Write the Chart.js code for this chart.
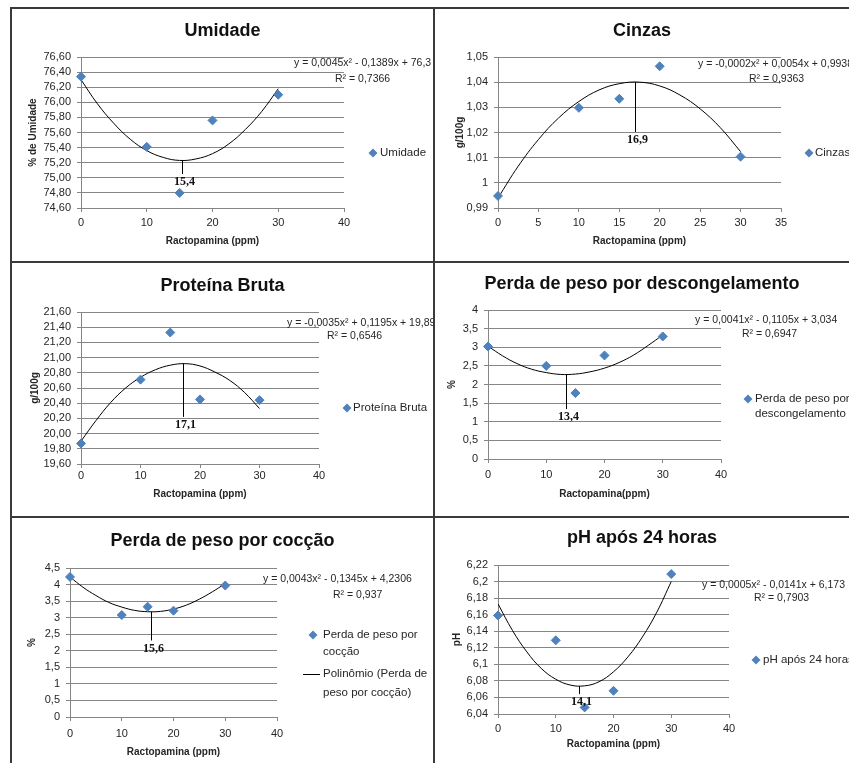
<!DOCTYPE html>
<html>
<head>
<meta charset="utf-8">
<script src="https://cdn.jsdelivr.net/npm/chart.js@4/dist/chart.umd.min.js"></script>
<style>
html,body{margin:0;padding:0;background:#fff;}
#wrap{position:relative;width:849px;height:763px;overflow:hidden;background:#fff;}
#wrap canvas{position:absolute;}
.ln{position:absolute;background:#3a3a3a;z-index:5;}
</style>
</head>
<body>
<div id="wrap">
  <canvas id="c1"></canvas><canvas id="c2"></canvas>
  <canvas id="c3"></canvas><canvas id="c4"></canvas>
  <canvas id="c5"></canvas><canvas id="c6"></canvas>
  <div class="ln" style="left:10px;top:7px;width:839px;height:2px"></div>
  <div class="ln" style="left:10px;top:7px;width:2px;height:756px"></div>
  <div class="ln" style="left:433px;top:7px;width:2px;height:756px"></div>
  <div class="ln" style="left:10px;top:261px;width:839px;height:2px"></div>
  <div class="ln" style="left:10px;top:516px;width:839px;height:2px"></div>
</div>
<script>
// ---------- DATA ----------
const doses = [0, 10, 15, 20, 30];
const umidade = [76.34, 75.41, 74.80, 75.76, 76.10];
const cinzas = [0.9948, 1.0298, 1.0334, 1.0463, 1.0104];
const proteina = [19.87, 20.71, 21.33, 20.45, 20.44];
const descongelamento = [3.02, 2.50, 1.77, 2.78, 3.29];
const coccao = [4.23, 3.08, 3.33, 3.21, 3.97];
const ph = [6.159, 6.129, 6.048, 6.068, 6.209];

// trend curves
const curveX = [0, 2.5, 5, 7.5, 10, 12.5, 15, 17.5, 20, 22.5, 25, 27.5, 30];
const umidadeCurve = [76.30, 75.98, 75.72, 75.51, 75.36, 75.27, 75.23, 75.25, 75.32, 75.45, 75.64, 75.88, 76.18];
const cinzasCurve = [0.994, 1.0066, 1.0172, 1.0258, 1.0323, 1.0369, 1.0394, 1.0400, 1.0385, 1.0349, 1.0294, 1.0219, 1.0124];
const proteinaCurve = [19.90, 20.17, 20.41, 20.60, 20.74, 20.84, 20.90, 20.92, 20.89, 20.81, 20.70, 20.54, 20.33];
const descongelamentoCurve = [3.03, 2.77, 2.56, 2.41, 2.32, 2.27, 2.28, 2.34, 2.44, 2.59, 2.79, 3.05, 3.33];
const coccaoCurve = [4.23, 3.92, 3.67, 3.46, 3.32, 3.22, 3.18, 3.19, 3.26, 3.38, 3.56, 3.78, 4.03];
const phCurve = [6.173, 6.141, 6.115, 6.095, 6.082, 6.075, 6.074, 6.079, 6.091, 6.109, 6.133, 6.163, 6.200];

// vertex markers: [x, curve y, bottom of line y]
const umidadeVertex = [15.4, 75.23, 75.05];
const cinzasVertex = [16.9, 1.040, 1.0202];
const proteinaVertex = [17.1, 20.92, 20.22];
const descongelamentoVertex = [13.4, 2.27, 1.34];
const coccaoVertex = [15.6, 3.18, 2.31];
const phVertex = [14.1, 6.074, 6.064];
const vertexLabels = ['15,4', '16,9', '17,1', '13,4', '15,6', '14,1'];

// tick labels
const umidadeYTicks = ['74,60','74,80','75,00','75,20','75,40','75,60','75,80','76,00','76,20','76,40','76,60'];
const cinzasYTicks = ['0,99','1','1,01','1,02','1,03','1,04','1,05'];
const proteinaYTicks = ['19,60','19,80','20,00','20,20','20,40','20,60','20,80','21,00','21,20','21,40','21,60'];
const descongelamentoYTicks = ['0','0,5','1','1,5','2','2,5','3','3,5','4'];
const coccaoYTicks = ['0','0,5','1','1,5','2','2,5','3','3,5','4','4,5'];
const phYTicks = ['6,04','6,06','6,08','6,1','6,12','6,14','6,16','6,18','6,2','6,22'];
const xTicks40 = ['0','10','20','30','40'];
const xTicks35 = ['0','5','10','15','20','25','30','35'];

// texts
const titles = ['Umidade', 'Cinzas', 'Proteína Bruta', 'Perda de peso por descongelamento', 'Perda de peso por cocção', 'pH após 24 horas'];
const equations = ['y = 0,0045x² - 0,1389x + 76,3', 'y = -0,0002x² + 0,0054x + 0,9938', 'y = -0,0035x² + 0,1195x + 19,896',
  'y = 0,0041x² - 0,1105x + 3,034', 'y = 0,0043x² - 0,1345x + 4,2306', 'y = 0,0005x² - 0,0141x + 6,173'];
const r2Texts = ['R² = 0,7366', 'R² = 0,9363', 'R² = 0,6546', 'R² = 0,6947', 'R² = 0,937', 'R² = 0,7903'];
const yTitles = ['% de Umidade', 'g/100g', 'g/100g', '%', '%', 'pH'];
const xTitles = ['Ractopamina (ppm)', 'Ractopamina (ppm)', 'Ractopamina (ppm)', 'Ractopamina(ppm)', 'Ractopamina (ppm)', 'Ractopamina (ppm)'];

// ---------- STYLE / LAYOUT ----------
const FONT = '"Liberation Sans", Arial, sans-serif';
const SERIF = '"Liberation Serif", "Times New Roman", serif';
const BLUE = '#4F81BD';
const GRID = '#868686';
const TXT = '#262626';
const toNum = s => parseFloat(s.replace(',', '.'));

const panels = [
  {id:'c1', left:12, top:9, w:421, h:252, area:[69,48,332,199], name:'Umidade', values:umidade, curve:umidadeCurve,
   yTicks:umidadeYTicks, xTicks:xTicks40, vertex:umidadeVertex, vi:0, titleY:22, yTitlePad:15, xTitlePad:14, xTickPad:4,
   eqPos:[[282,54],[323,70]], legend:[{type:'marker', mx:361, tx:368, lines:[[ 'Umidade',144 ]]}]},
  {id:'c2', left:435, top:9, w:414, h:252, area:[63,48,346,199], name:'Cinzas', values:cinzas, curve:cinzasCurve,
   yTicks:cinzasYTicks, xTicks:xTicks35, vertex:cinzasVertex, vi:1, titleY:22, yTitlePad:19, xTitlePad:14, xTickPad:4,
   eqPos:[[263,55],[314,70]], legend:[{type:'marker', mx:374, tx:380, lines:[[ 'Cinzas',144 ]]}]},
  {id:'c3', left:12, top:263, w:421, h:253, area:[69,49,307,201], name:'Proteína Bruta', values:proteina, curve:proteinaCurve,
   yTicks:proteinaYTicks, xTicks:xTicks40, vertex:proteinaVertex, vi:2, titleY:23, yTitlePad:17, xTitlePad:16, xTickPad:1,
   eqPos:[[275,60],[315,73]], legend:[{type:'marker', mx:335, tx:341, lines:[[ 'Proteína Bruta',145 ]]}]},
  {id:'c4', left:435, top:263, w:414, h:253, area:[53,47,286,196], name:'Perda de peso por descongelamento', values:descongelamento, curve:descongelamentoCurve,
   yTicks:descongelamentoYTicks, xTicks:xTicks40, vertex:descongelamentoVertex, vi:3, titleY:21, yTitlePad:11, xTitlePad:16, xTickPad:5,
   eqPos:[[260,57],[307,71]], legend:[{type:'marker', mx:313, tx:320, lines:[[ 'Perda de peso por',136 ],[ 'descongelamento',151 ]]}]},
  {id:'c5', left:12, top:518, w:421, h:245, area:[58,50,265,199], name:'Perda de peso por cocção', values:coccao, curve:coccaoCurve,
   yTicks:coccaoYTicks, xTicks:xTicks40, vertex:coccaoVertex, vi:4, titleY:23, yTitlePad:14, xTitlePad:5, xTickPad:6,
   eqPos:[[251,61],[321,77]], legend:[
     {type:'marker', mx:301, tx:311, lines:[[ 'Perda de peso por',117 ],[ 'cocção',134 ]]},
     {type:'line', lx1:291, lx2:308, tx:311, lines:[[ 'Polinômio (Perda de',156 ],[ 'peso por cocção)',175 ]]}]},
  {id:'c6', left:435, top:518, w:414, h:245, area:[63,47,294,196], name:'pH após 24 horas', values:ph, curve:phCurve,
   yTicks:phYTicks, xTicks:xTicks40, vertex:phVertex, vi:5, titleY:20, yTitlePad:16, xTitlePad:13, xTickPad:4,
   eqPos:[[267,67],[319,80]], legend:[{type:'marker', mx:321, tx:328, lines:[[ 'pH após 24 horas',142 ]]}]}
];

function diamond(ctx, x, y, r) {
  ctx.beginPath();
  ctx.moveTo(x, y - r); ctx.lineTo(x + r, y); ctx.lineTo(x, y + r); ctx.lineTo(x - r, y); ctx.closePath();
  ctx.fillStyle = BLUE; ctx.fill();
}

const deco = {
  id: 'deco',
  afterDraw(chart) {
    const p = panels.find(q => q.id === chart.canvas.id);
    if (!p) return;
    const ctx = chart.ctx, xs = chart.scales.x, ys = chart.scales.y;
    const k = p.vi;
    ctx.save();
    // vertex line + label
    const px = Math.round(xs.getPixelForValue(p.vertex[0])) + 0.5;
    const y1 = ys.getPixelForValue(p.vertex[1]), y2 = ys.getPixelForValue(p.vertex[2]);
    ctx.strokeStyle = '#000'; ctx.lineWidth = 1;
    ctx.beginPath(); ctx.moveTo(px, y1); ctx.lineTo(px, y2); ctx.stroke();
    ctx.font = 'bold 12px ' + SERIF; ctx.fillStyle = '#111';
    ctx.textAlign = 'center'; ctx.textBaseline = 'middle';
    ctx.fillText(vertexLabels[k], px + 2, y2 + 8);
    // title
    ctx.font = 'bold 18px ' + FONT; ctx.fillStyle = '#111';
    ctx.fillText(titles[k], p.w / 2, p.titleY);
    // equation
    ctx.font = '10.5px ' + FONT; ctx.fillStyle = TXT; ctx.textAlign = 'left';
    ctx.fillText(equations[k], p.eqPos[0][0], p.eqPos[0][1]);
    ctx.fillText(r2Texts[k], p.eqPos[1][0], p.eqPos[1][1]);
    // legend
    ctx.font = '11.5px ' + FONT;
    p.legend.forEach(e => {
      if (e.type === 'marker') diamond(ctx, e.mx, e.lines[0][1], 4.5);
      else {
        ctx.strokeStyle = '#000'; ctx.lineWidth = 1;
        ctx.beginPath(); ctx.moveTo(e.lx1, e.lines[0][1] + 0.5); ctx.lineTo(e.lx2, e.lines[0][1] + 0.5); ctx.stroke();
      }
      ctx.fillStyle = TXT;
      e.lines.forEach(([t, y]) => ctx.fillText(t, e.tx, y));
    });
    ctx.restore();
  }
};

function makeChart(p, k) {
  const cv = document.getElementById(p.id);
  cv.width = p.w; cv.height = p.h;
  cv.style.left = p.left + 'px'; cv.style.top = p.top + 'px';
  cv.style.width = p.w + 'px'; cv.style.height = p.h + 'px';
  const [L, T, R, B] = p.area;
  const yVals = p.yTicks.map(toNum), xVals = p.xTicks.map(toNum);
  return new Chart(cv, {
    type: 'scatter',
    data: {
      datasets: [
        { label: p.name, data: doses.map((d, i) => ({x: d, y: p.values[i]})),
          pointStyle: 'rectRot', pointRadius: 4.5, pointHoverRadius: 4.5, clip: false,
          backgroundColor: BLUE, borderColor: BLUE, borderWidth: 1, order: 0 },
        { label: 'Polinômio', type: 'line', data: curveX.map((x, i) => ({x: x, y: p.curve[i]})),
          showLine: true, pointRadius: 0, borderColor: '#000', borderWidth: 1, tension: 0.4, fill: false, order: 1 }
      ]
    },
    options: {
      responsive: false, animation: false, devicePixelRatio: 1,
      layout: { padding: { left: 0, top: T, right: p.w - R, bottom: 0 } },
      plugins: { legend: { display: false }, title: { display: false }, tooltip: { enabled: false } },
      scales: {
        x: {
          type: 'linear', min: xVals[0], max: xVals[xVals.length - 1],
          afterBuildTicks: s => { s.ticks = xVals.map(v => ({value: v})); },
          afterFit: s => { s.height = p.h - B; },
          ticks: { callback: (v, i) => p.xTicks[i], font: {family: FONT, size: 11}, color: TXT, padding: p.xTickPad, maxRotation: 0, autoSkip: false },
          grid: { drawOnChartArea: false, drawTicks: true, tickLength: 4, color: GRID },
          border: { display: true, color: GRID, width: 1 },
          title: { display: true, text: xTitles[k], font: {family: FONT, size: 10, weight: 'bold'}, color: TXT, padding: {top: 0, bottom: p.xTitlePad} }
        },
        y: {
          type: 'linear', min: yVals[0], max: yVals[yVals.length - 1],
          afterBuildTicks: s => { s.ticks = yVals.map(v => ({value: v})); },
          afterFit: s => { s.width = L; },
          ticks: { callback: (v, i) => p.yTicks[i], font: {family: FONT, size: 11}, color: TXT, padding: 6, autoSkip: false },
          grid: { color: GRID, drawTicks: true, tickLength: 4 },
          border: { display: true, color: GRID, width: 1 },
          title: { display: true, text: yTitles[k], font: {family: FONT, size: 10, weight: 'bold'}, color: TXT, padding: {top: p.yTitlePad, bottom: 0} }
        }
      }
    },
    plugins: [deco]
  });
}

panels.forEach((p, k) => makeChart(p, k));
</script>
</body>
</html>
